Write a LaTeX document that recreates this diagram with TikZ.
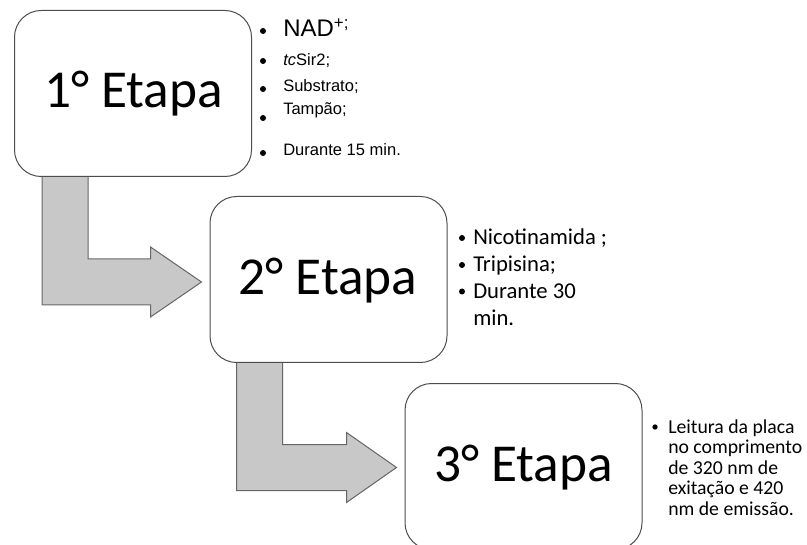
\documentclass[tikz,border=0pt]{standalone}
\usepackage{fontspec}
\setmainfont{Carlito}
\newfontfamily\arialf{Liberation Sans}
\usetikzlibrary{calc}
\definecolor{edgegray}{HTML}{4D4D4D}
\definecolor{arrowgray}{HTML}{666666}
\definecolor{arrowfill}{HTML}{C8C8C8}
\tikzset{
  stagebox/.style={draw=edgegray, line width=0.75pt, fill=white, rounded corners=20pt,
    minimum width=177.75pt, minimum height=124.5pt, inner sep=0pt},
  stagetitle/.style={anchor=base, inner sep=0pt, font=\fontsize{40}{42}\selectfont},
  bentarrow/.style={draw=arrowgray, fill=arrowfill, line width=0.75pt, line join=miter},
  dotmark/.style={circle, fill=black, draw=none, inner sep=0pt, minimum size=#1},
  listone/.style={anchor=base west, inner sep=0pt, font=\arialf\fontsize{12.4}{14}\selectfont},
  listtwo/.style={anchor=base west, inner sep=0pt, font=\fontsize{17}{20}\selectfont},
  listthree/.style={anchor=base west, inner sep=0pt, font=\fontsize{14.8}{18}\selectfont},
}
\begin{document}
\begin{tikzpicture}[x=0.75pt,y=-0.75pt]
\useasboundingbox (0,0) rectangle (807,545);

% box positions (invisible first, to anchor arrows)
\path (133,93.5) node[stagebox, draw=none, fill=none] (b1) {};
\path (328.5,279.5) node[stagebox, draw=none, fill=none] (b2) {};
\path (523.5,466.5) node[stagebox, draw=none, fill=none] (b3) {};

% bent arrow 1
\coordinate (a1tip) at ($(b2.west)+(-8,2.5)$);
\coordinate (a1top) at ($(b1.south west)+(28,-6)$);
\draw[bentarrow] (a1top) -- ($(a1top |- a1tip)+(0,23)$) -- ($(a1tip)+(-51,23)$)
  -- ($(a1tip)+(-51,35)$) -- (a1tip) -- ($(a1tip)+(-51,-35)$) -- ($(a1tip)+(-51,-23)$)
  -- ($(a1top |- a1tip)+(46,-23)$) -- ($(a1top)+(46,0)$) -- cycle;

% bent arrow 2
\coordinate (a2tip) at ($(b3.west)+(-8,1)$);
\coordinate (a2top) at ($(b2.south west)+(27,-6)$);
\draw[bentarrow] (a2top) -- ($(a2top |- a2tip)+(0,23)$) -- ($(a2tip)+(-50,23)$)
  -- ($(a2tip)+(-50,35)$) -- (a2tip) -- ($(a2tip)+(-50,-35)$) -- ($(a2tip)+(-50,-23)$)
  -- ($(a2top |- a2tip)+(46,-23)$) -- ($(a2top)+(46,0)$) -- cycle;

% boxes
\node[stagebox] (box1) at (b1) {};
\node[stagebox] (box2) at (b2) {};
\node[stagebox] (box3) at (b3) {};

\node[stagetitle] (t1) at (133.5,108) {1° Etapa};
\node[stagetitle] (t2) at (328,295) {2° Etapa};
\node[stagetitle] (t3) at (523.5,481) {3° Etapa};

% list 1
\node[dotmark=4.5pt] (d11) at (263,31) {};
\node[dotmark=4.5pt] (d12) at (263,61) {};
\node[dotmark=4.5pt] (d13) at (263,89) {};
\node[dotmark=4.5pt] (d14) at (263,118) {};
\node[dotmark=4.5pt] (d15) at (263,153) {};
\node[listone, font=\arialf\fontsize{18}{20}\selectfont] (l11) at (283,37) {NAD\textsuperscript{+;}};
\node[listone] (l12) at (283,66) {\textit{tc}Sir2;};
\node[listone] (l13) at (283,92) {Substrato;};
\node[listone] (l14) at (283,115) {Tampão;};
\node[listone] (l15) at (283,156) {Durante 15 min.};

% list 2
\node[dotmark=4.5pt] (d21) at (462,238) {};
\node[dotmark=4.5pt] (d22) at (462,265) {};
\node[dotmark=4.5pt] (d23) at (462,291.5) {};
\node[listtwo] (l21) at (473,245) {Nicotinamida ;};
\node[listtwo] (l22) at (473,272) {Tripisina;};
\node[listtwo] (l23) at (473,298.5) {Durante 30};
\node[listtwo] (l24) at (473,325.5) {min.};

% list 3
\node[dotmark=4pt] (d31) at (655,427) {};
\node[listthree] (l31) at (668,433) {Leitura da placa};
\node[listthree] (l32) at (668,453.5) {no comprimento};
\node[listthree] (l33) at (668,474) {de 320 nm de};
\node[listthree] (l34) at (668,494.5) {exitação e 420};
\node[listthree] (l35) at (668,515) {nm de emissão.};
\end{tikzpicture}
\end{document}
